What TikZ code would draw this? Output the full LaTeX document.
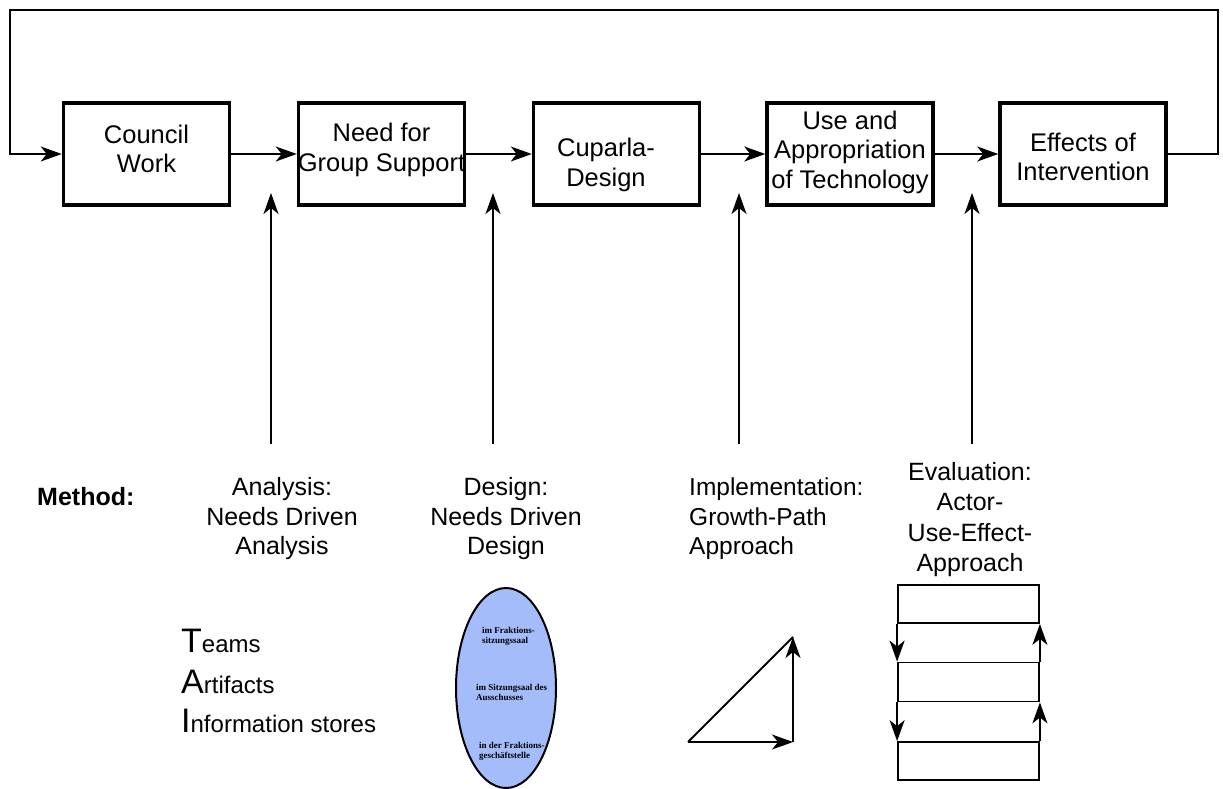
\documentclass[tikz,border=0pt]{standalone}
\usepackage{fontspec}
\setmainfont{Liberation Sans}
\newfontfamily\tnr{Liberation Serif}
\usetikzlibrary{arrows.meta,shapes.geometric}
\definecolor{ellblue}{RGB}{164,189,250}
\tikzset{
  box/.style={draw, line width=3.5pt, minimum width=166pt, minimum height=102pt, inner sep=0pt},
  boxtext/.style={inner sep=0pt, align=center, font=\fontsize{25.5}{29.5}\selectfont},
  conn/.style={line width=1.8pt, -{Stealth[length=21pt,width=15pt,inset=6pt]}},
  plain/.style={line width=1.8pt},
  lbl/.style={inner sep=0pt, font=\fontsize{25}{29.5}\selectfont},
  small/.style={inner sep=0pt, anchor=north west, align=left, font=\tnr\bfseries\fontsize{9}{10.5}\selectfont},
  stackbox/.style={draw, line width=1.8pt, minimum width=141pt, inner sep=0pt}
}
\begin{document}
\begin{tikzpicture}[x=1pt,y=-1pt]
\useasboundingbox (0,0) rectangle (1223,789);
% boxes
\node[box] (cw) at (146.5,154) {};
\node[box] (need) at (381.5,154) {};
\node[box] (cup) at (616.5,154) {};
\node[box] (use) at (850,154) {};
\node[box] (eff) at (1083,154) {};
\node[boxtext] (cwt) at (146.5,149) {Council\\Work};
\node[boxtext] (needt) at (381.5,150) {Need for\\Group Support};
\node[boxtext] (cupt) at (606,165) {Cuparla-\\Design};
\node[boxtext] (uset) at (850,152) {Use and\\Appropriation\\of Technology};
\node[boxtext] (efft) at (1083,157) {Effects of\\Intervention};
% flow
\draw[conn] (cw) -- (need);
\draw[conn] (need) -- (cup);
\draw[conn] (cup) -- (use);
\draw[conn] (use) -- (eff);
% feedback loop
\coordinate (fb1) at (1218,154);
\coordinate (fb2) at (1218,10);
\coordinate (fb3) at (10,10);
\coordinate (fb4) at (10,154);
\draw[conn] (eff.east) -- (fb1) -- (fb2) -- (fb3) -- (fb4) -- (cw.west);
% upward arrows
\coordinate (u1a) at (271,444); \coordinate (u1b) at (271,193);
\coordinate (u2a) at (493,444); \coordinate (u2b) at (493,193);
\coordinate (u3a) at (739,444); \coordinate (u3b) at (739,193);
\coordinate (u4a) at (972,444); \coordinate (u4b) at (972,193);
\draw[conn] (u1a) -- (u1b);
\draw[conn] (u2a) -- (u2b);
\draw[conn] (u3a) -- (u3b);
\draw[conn] (u4a) -- (u4b);
% method labels
\node[inner sep=0pt, anchor=base west, font=\bfseries\fontsize{25}{25}\selectfont] (meth) at (37,505) {Method:};
\node[lbl, align=center, anchor=north] (ana) at (282,477.5) {Analysis:\\Needs Driven\\Analysis};
\node[lbl, align=center, anchor=north] (des) at (506,477.5) {Design:\\Needs Driven\\Design};
\node[lbl, align=left, anchor=north west, font=\fontsize{24.5}{29.5}\selectfont] (imp) at (689,478) {Implementation:\\Growth-Path\\Approach};
\node[lbl, align=center, anchor=north, font=\fontsize{25}{30.5}\selectfont] (eva) at (970,462) {Evaluation:\\Actor-\\Use-Effect-\\Approach};
% TAI
\node[inner sep=0pt, anchor=base west] (teams) at (181,652) {{\fontsize{34}{34}\selectfont T}{\fontsize{24}{24}\selectfont eams}};
\node[inner sep=0pt, anchor=base west] (art) at (181,693) {{\fontsize{34}{34}\selectfont A}{\fontsize{24}{24}\selectfont rtifacts}};
\node[inner sep=0pt, anchor=base west] (inf) at (181,732) {{\fontsize{34}{34}\selectfont I}{\fontsize{24}{24}\selectfont nformation stores}};
% ellipse
\node[draw, ellipse, fill=ellblue, line width=2pt, minimum width=100pt, minimum height=200pt, inner sep=0pt] (ell) at (506,688) {};
\node[small] (e1) at (482,626.8) {im Fraktions-\\sitzungssaal};
\node[small] (e2) at (476,683.8) {im Sitzungsaal des\\Ausschusses};
\node[small] (e3) at (479,741.8) {in der Fraktions-\\geschäftstelle};
% triangle
\coordinate (t1) at (688,742);
\coordinate (t2) at (793,742);
\coordinate (t3) at (793,637);
\draw[plain] (t1) -- (t3);
\draw[conn] (t1) -- (t2);
\draw[conn] (t2) -- (t3);
% stack
\node[stackbox, minimum height=38pt] (s1) at (968.5,604) {};
\node[stackbox, minimum height=39pt] (s3) at (968.5,682) {};
\node[stackbox, minimum height=38pt] (s5) at (968.5,761) {};
\draw[conn] (s1.south west) -- (s3.north west);
\draw[conn] (s3.north east) -- (s1.south east);
\draw[conn] (s3.south west) -- (s5.north west);
\draw[conn] (s5.north east) -- (s3.south east);
\end{tikzpicture}
\end{document}
